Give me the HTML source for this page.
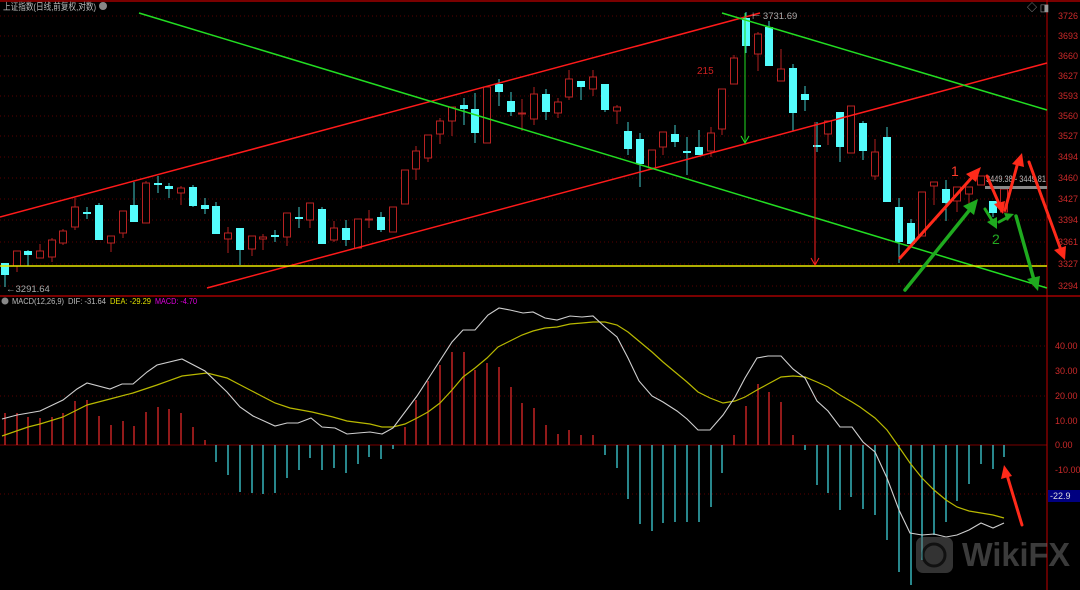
<!DOCTYPE html>
<html><head><meta charset="utf-8"><style>
html,body{margin:0;padding:0;background:#000;width:1080px;height:590px;overflow:hidden}
svg{display:block}
text{font-family:"Liberation Sans","Noto Sans CJK SC",sans-serif}
</style></head><body>
<svg id="s" width="1080" height="590" xmlns="http://www.w3.org/2000/svg">
<rect width="1080" height="590" fill="#000"/>
<g id="grid"></g>
<line x1="0" y1="1" x2="1080" y2="1" stroke="#7a0000" stroke-width="2"/>
<line x1="0" y1="296" x2="1080" y2="296" stroke="#7a0000" stroke-width="2"/>
<line x1="1047" y1="0" x2="1047" y2="590" stroke="#c00000" stroke-width="1"/>
<g id="cand"></g>
<g id="macd"></g>
<!-- trend lines -->
<line x1="0" y1="217" x2="760" y2="13" stroke="#ff1a1a" stroke-width="1.5"/>
<line x1="207" y1="288" x2="1047" y2="63" stroke="#ff1a1a" stroke-width="1.5"/>
<line x1="139" y1="13" x2="1047" y2="288" stroke="#22dd22" stroke-width="1.5"/>
<line x1="722" y1="13" x2="1047" y2="110" stroke="#22dd22" stroke-width="1.5"/>
<line x1="0" y1="266" x2="1047" y2="266" stroke="#e8e800" stroke-width="1.5"/>
<line x1="745" y1="13" x2="745" y2="142" stroke="#22dd22" stroke-width="1"/>
<polyline points="741,136 745,143 749,136" fill="none" stroke="#22dd22" stroke-width="1"/>
<line x1="815" y1="122" x2="815" y2="264" stroke="#ff2020" stroke-width="1"/>
<polyline points="811,258 815,265 819,258" fill="none" stroke="#ff2020" stroke-width="1"/>
<text x="697" y="74" font-size="10" fill="#cc2020">215</text>
<text x="752" y="19" font-size="9.5" fill="#aaa">⊢ 3731.69</text>
<text x="6" y="292" font-size="9.5" fill="#aaa">←3291.64</text>
<rect x="985" y="186" width="62" height="3" fill="#888"/>
<text x="986" y="182" font-size="9.5" fill="#bbb" textLength="60" lengthAdjust="spacingAndGlyphs">3449.38 - 3449.81</text>
<!-- annotation arrows -->
<g stroke-linecap="round">
<line x1="900" y1="258" x2="975" y2="174" stroke="#ff2a1a" stroke-width="3"/>
<polygon points="981,167 966,174 976,182" fill="#ff2a1a"/>
<line x1="905" y1="290" x2="972" y2="207" stroke="#1faa1f" stroke-width="3.5"/>
<polygon points="978,199 963,206 974,215" fill="#1faa1f"/>
<line x1="987" y1="176" x2="1000" y2="206" stroke="#ff2a1a" stroke-width="3"/>
<polygon points="1003,214 994,204 1005,201" fill="#ff2a1a"/>
<line x1="1005" y1="210" x2="1018" y2="162" stroke="#ff2a1a" stroke-width="3"/>
<polygon points="1022,153 1012,164 1024,167" fill="#ff2a1a"/>
<line x1="1029" y1="162" x2="1061" y2="250" stroke="#ff2a1a" stroke-width="3"/>
<polygon points="1065,260 1054,250 1066,246" fill="#ff2a1a"/>
<line x1="985" y1="209" x2="993" y2="222" stroke="#1faa1f" stroke-width="3"/>
<polygon points="997,229 987,222 997,217" fill="#1faa1f"/>
<line x1="999" y1="222" x2="1008" y2="217" stroke="#1faa1f" stroke-width="3"/>
<polygon points="1014,214 1004,213 1007,221" fill="#1faa1f"/>
<line x1="1016" y1="216" x2="1034" y2="280" stroke="#1faa1f" stroke-width="3.5"/>
<polygon points="1038,291 1027,279 1040,276" fill="#1faa1f"/>
<line x1="1022" y1="525" x2="1007" y2="475" stroke="#ff2a1a" stroke-width="3"/>
<polygon points="1004,465 1001,479 1012,476" fill="#ff2a1a"/>
</g>
<text x="951" y="176" font-size="14" fill="#ff3a2a">1</text>
<text x="992" y="244" font-size="14" fill="#22aa22">2</text>
<!-- labels -->
<text x="3" y="10" font-size="9.5" fill="#bbb" textLength="93" lengthAdjust="spacingAndGlyphs">上证指数(日线,前复权,对数)</text>
<circle cx="103" cy="6" r="4" fill="#888"/>
<circle cx="5" cy="301" r="3.5" fill="#888"/>
<text x="12" y="304" font-size="8.5" fill="#bbb" textLength="52" lengthAdjust="spacingAndGlyphs">MACD(12,26,9)</text>
<text x="68" y="304" font-size="8.5" fill="#bbb" textLength="38" lengthAdjust="spacingAndGlyphs">DIF: -31.64</text>
<text x="110" y="304" font-size="8.5" fill="#e0e000" textLength="41" lengthAdjust="spacingAndGlyphs">DEA: -29.29</text>
<text x="155" y="304" font-size="8.5" fill="#e000e0" textLength="42" lengthAdjust="spacingAndGlyphs">MACD: -4.70</text>
<g font-size="9" fill="#cc2a2a" id="ax"></g>
<rect x="1048" y="490" width="32" height="12" fill="#000080"/>
<text x="1050" y="499" font-size="9" fill="#ddd">-22.9</text>
<text x="1027" y="11" font-size="10" fill="#999">◇ ◨</text>
<!-- watermark -->
<g opacity="0.5">
<rect x="916" y="537" width="37" height="36" rx="7" fill="#666"/>
<circle cx="934" cy="555" r="11" fill="none" stroke="#222" stroke-width="3"/>
<text x="962" y="566" font-size="33" font-weight="bold" fill="#777" textLength="108" lengthAdjust="spacingAndGlyphs">WikiFX</text>
</g>
</svg>
<script>
var NS="http://www.w3.org/2000/svg";
function el(p,t,a){var e=document.createElementNS(NS,t);for(var k in a)e.setAttribute(k,a[k]);p.appendChild(e);return e;}
var g=document.getElementById('grid'),ax=document.getElementById('ax');
var pl=[[3726,16],[3693,36],[3660,56],[3627,76],[3593,96],[3560,116],[3527,136],[3494,157],[3460,178],[3427,199],[3394,220],[3361,242],[3327,264],[3294,286]];
pl.forEach(function(p){el(g,'line',{x1:0,y1:p[1],x2:1047,y2:p[1],stroke:'#5a0000','stroke-dasharray':'1,3'});el(ax,'text',{x:1058,y:p[1]+3}).textContent=p[0];});
[[346,'40.00',1],[371,'30.00',0],[396,'20.00',1],[421,'10.00',0],[445,'0.00',1],[470,'-10.00',0],[494,'',1]].forEach(function(p){
 if(p[2])el(g,'line',{x1:0,y1:p[0],x2:1047,y2:p[0],stroke:p[0]==445?'#7a0000':'#5a0000','stroke-dasharray':p[0]==445?'':'1,3'});
 if(p[1])el(ax,'text',{x:1055,y:p[0]+3}).textContent=p[1];});
var C=[
[5,'c',263,275,263,287],[17,'r',251,266,251,272],[28,'c',251,255,250,266],[40,'r',251,258,244,258],[52,'r',240,257,238,262],
[63,'r',231,243,229,245],[75,'r',207,227,198,230],[87,'c',212,214,207,219],[99,'c',205,240,203,240],[111,'r',236,243,236,252],
[123,'r',211,233,211,238],[134,'c',205,222,182,222],[146,'r',183,223,181,223],[158,'c',183,185,176,193],[169,'c',186,189,183,198],
[181,'r',188,193,186,205],[193,'c',187,206,185,207],[205,'c',205,209,198,214],[216,'c',206,234,202,234],[228,'r',233,239,227,253],
[240,'c',228,250,228,265],[252,'r',236,249,236,256],[263,'r',237,239,234,250],[275,'c',235,237,230,242],[287,'r',213,237,213,246],
[299,'c',217,219,207,228],[310,'r',203,220,203,228],[322,'c',209,244,207,244],[334,'r',228,240,221,242],[346,'c',228,240,220,246],
[358,'r',219,248,219,248],[369,'r',219,220,210,228],[381,'c',217,230,212,232],[393,'r',207,232,207,232],[405,'r',170,204,170,204],
[416,'r',151,169,146,180],[428,'r',135,158,135,162],[440,'r',121,134,118,144],[452,'r',107,121,107,136],[464,'c',105,109,98,125],
[475,'c',109,133,93,143],[487,'r',87,143,87,143],[499,'c',84,92,79,106],[511,'c',101,112,92,116],[522,'r',113,114,99,131],
[534,'r',94,119,87,125],[546,'c',94,112,89,120],[558,'r',102,113,98,118],[569,'r',79,97,70,100],[581,'c',81,87,81,100],
[593,'r',77,89,70,96],[605,'c',84,110,84,112],[617,'r',107,111,105,124],[628,'c',131,149,122,155],[640,'c',139,164,133,187],
[652,'r',150,168,150,170],[663,'r',132,147,132,155],[675,'c',134,142,125,147],[687,'c',151,152,137,175],[699,'c',147,155,130,155],
[711,'r',133,151,127,157],[722,'r',89,129,89,135],[734,'r',58,84,55,84],[746,'c',18,46,12,53],[758,'r',34,54,32,71],
[769,'c',27,66,21,66],[781,'r',69,81,49,81],[793,'c',68,113,64,131],[805,'c',94,100,86,111],[817,'c',145,147,122,152],
[828,'r',121,134,121,145],[840,'c',112,147,112,162],[851,'r',106,153,106,153],[863,'c',123,151,121,160],[875,'r',152,176,139,180],
[887,'c',137,202,127,202],[899,'c',207,242,198,263],[911,'c',223,244,219,246],[922,'r',192,236,192,236],[934,'r',182,186,182,205],
[946,'c',189,203,180,221],[957,'r',187,201,187,212],[969,'r',187,194,187,204],[981,'r',176,185,176,185],[993,'c',201,213,201,217],
[1004,'r',189,212,189,212]];
var cg=document.getElementById('cand');
C.forEach(function(c){var col=c[1]=='r'?'#c42a2a':'#54fcfc';
 el(cg,'line',{x1:c[0],y1:c[4],x2:c[0],y2:c[5],stroke:c[1]=='r'?'#b02020':'#3fc8c8','stroke-width':1});
 var h=Math.max(c[3]-c[2],1);
 if(c[1]=='r')el(cg,'rect',{x:c[0]-3.5,y:c[2],width:7,height:h,fill:'#000',stroke:'#b82222','stroke-width':1});
 else el(cg,'rect',{x:c[0]-4,y:c[2],width:8,height:h+(h<2?1:0),fill:col});});
var M=[413,413,417,418,417,413,401,400,416,425,421,426,412,407,409,413,427,440,462,475,492,493,494,493,478,470,458,470,468,473,464,457,459,449,427,400,381,365,352,352,370,363,367,387,403,408,425,434,430,435,435,455,468,499,524,531,523,522,522,522,507,473,435,406,384,392,402,435,450,485,493,510,497,509,515,540,572,585,560,535,522,501,484,464,469,457];
var mg=document.getElementById('macd');
M.forEach(function(y,i){var x=C[i][0];el(mg,'line',{x1:x,y1:445,x2:x,y2:y,stroke:y<445?'#e02828':'#3fd0d8','stroke-width':1.3});});
var DIF="2,419 17,415 40,411 63,400 77,389 87,383 110,389 122,384 133,384 147,372 157,365 182,359 205,371 227,392 240,407 253,416 275,426 287,423 298,423 311,418 322,427 335,428 347,434 358,433 370,432 382,434 393,428 417,396 430,376 452,342 463,330 475,330 488,315 499,308 510,310 523,313 533,312 545,318 557,320 570,316 582,317 593,316 605,327 617,337 628,358 639,381 652,396 663,402 677,411 687,419 698,430 710,430 723,415 735,397 745,378 757,358 768,356 781,356 793,369 805,378 817,401 828,411 840,427 852,427 863,442 875,452 887,478 899,510 910,533 922,535 934,534 946,537 957,535 969,530 981,523 993,528 1004,523";
var DEA="2,436 28,427 40,424 63,417 87,405 110,399 133,393 157,385 182,376 207,373 227,378 250,390 275,403 290,408 312,412 333,417 347,421 370,424 382,427 393,427 405,424 417,418 428,412 440,403 452,390 463,377 475,368 487,358 498,347 510,341 522,335 533,331 545,328 557,327 570,324 582,323 593,322 605,322 617,325 628,332 640,342 652,352 663,362 675,372 687,382 698,392 710,398 723,403 735,401 745,397 757,390 768,384 781,377 793,376 805,377 817,382 828,387 840,395 852,402 860,407 875,418 887,430 899,447 910,463 922,478 934,490 946,500 957,507 969,511 981,513 993,515 1004,518";
el(mg,'polyline',{points:DEA,fill:'none',stroke:'#b8b800','stroke-width':1.2});
el(mg,'polyline',{points:DIF,fill:'none',stroke:'#d0d0d0','stroke-width':1.1});
</script>
</body></html>
